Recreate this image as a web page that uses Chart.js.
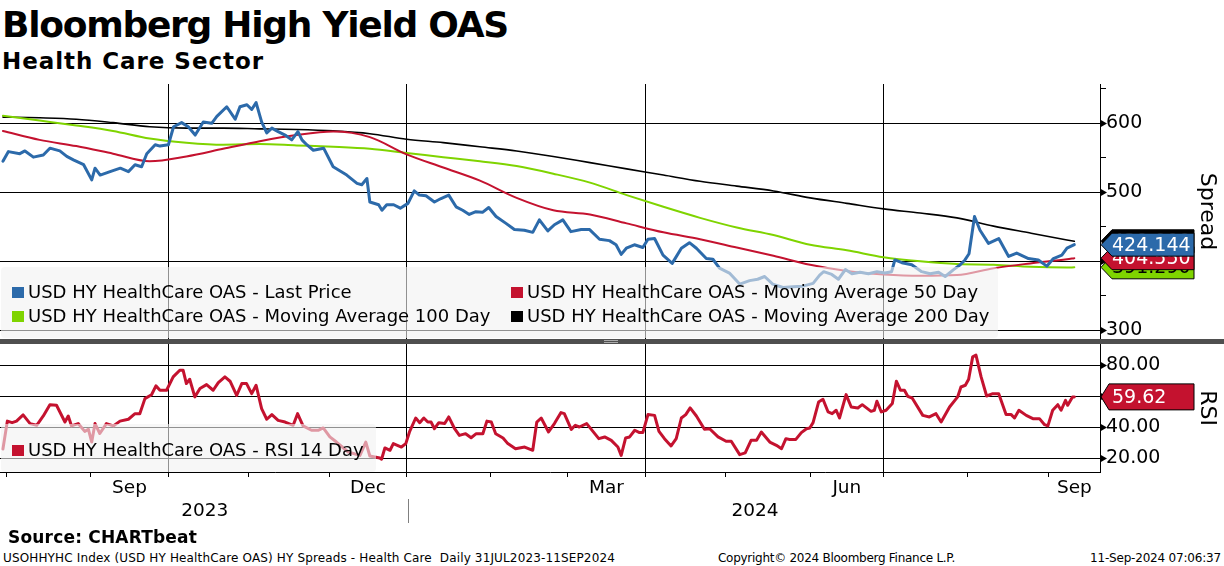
<!DOCTYPE html>
<html>
<head>
<meta charset="utf-8">
<script src="https://cdn.jsdelivr.net/npm/chart.js@4.4.1/dist/chart.umd.min.js"></script>
<style>
  body{margin:0;width:1224px;height:566px;overflow:hidden;position:relative;background:#fff;color:#000;font-family:"DejaVu Sans",sans-serif}
  .abs{position:absolute;white-space:nowrap}
  canvas{position:absolute;left:0}
  #title{left:2px;top:7px;font-size:36px;line-height:36px;font-weight:bold}
  #subtitle{left:2px;top:50px;font-size:23px;line-height:23px;font-weight:bold}
  .legend{position:absolute;background:rgba(242,242,242,0.6);border-radius:4px}
  .item{position:absolute;font-size:18px;line-height:18px;white-space:nowrap}
  .item i{position:absolute;left:-16px;top:4px;width:12px;height:11px}
  #sep{left:0;top:339px;width:1224px;height:5px;background:#4f4f4f}
  #grip{left:604px;top:340px;width:14px;height:1px;border-top:1px solid #aaa;border-bottom:1px solid #aaa}
  #yearSep{left:408px;top:499px;width:1px;height:24px;background:#808080}
  #source{left:8px;top:529px;font-size:17px;line-height:17px;font-weight:bold}
  .foot{top:552px;font-size:12px;line-height:12px}
</style>
</head>
<body>

<div id="title" class="abs">Bloomberg High Yield OAS</div>
<div id="subtitle" class="abs">Health Care Sector</div>

<canvas id="spreadChart" width="1224" height="255" style="top:84px"></canvas>
<canvas id="rsiChart" width="1224" height="190" style="top:344px"></canvas>

<div id="sep" class="abs"></div>
<div id="grip" class="abs"></div>
<div id="yearSep" class="abs"></div>

<div class="legend" style="left:1px;top:267px;width:997px;height:71px">
  <div class="item" style="left:27px;top:16px"><i style="background:#2c6aaa"></i>USD HY HealthCare OAS - Last Price</div>
  <div class="item" style="left:526px;top:16px"><i style="background:#c4122f"></i>USD HY HealthCare OAS - Moving Average 50 Day</div>
  <div class="item" style="left:27px;top:40px"><i style="background:#7fd400"></i>USD HY HealthCare OAS - Moving Average 100 Day</div>
  <div class="item" style="left:526px;top:40px"><i style="background:#000"></i>USD HY HealthCare OAS - Moving Average 200 Day</div>
</div>
<div class="legend" style="left:1px;top:424px;width:375px;height:48px">
  <div class="item" style="left:27px;top:17px"><i style="background:#c4122f"></i>USD HY HealthCare OAS - RSI 14 Day</div>
</div>

<div id="source" class="abs">Source: CHARTbeat</div>
<div id="foot1" class="abs foot" style="left:3px">USOHHYHC Index (USD HY HealthCare OAS) HY Spreads - Health Care&nbsp; Daily 31JUL2023-11SEP2024</div>
<div id="foot2" class="abs foot" style="left:718px">Copyright© 2024 Bloomberg Finance L.P.</div>
<div id="foot3" class="abs foot" style="right:3px">11-Sep-2024 07:06:37</div>

<script>
/* ==========================
   DATA (x = weekday index from 31 Jul 2023)
========================== */

const priceDays = [
  0,1.5,4.6,6,8.3,11,12.8,15.5,17.4,19.2,22,24.2,25.1,26.5,29.2,32,34.2,36,37.8,39.2,
  41.5,42.8,45.1,46.5,48.7,50.5,52.4,54.6,56.9,58.3,61,63.3,64.6,66.5,67.8,69,70.5,71.9,73.3,75,
  76.9,78.7,80.4,81.5,82.8,84.6,87.4,90,93.7,96.5,97.8,99.2,100,102.4,103.3,104.6,106.5,108.3,110.4,112.1,
  113.5,115.3,117.6,119.4,121.5,123.5,125.3,127.1,128.9,130.7,132.4,134.4,137.1,139.4,142.1,144.4,146.2,148.5,150.3,152.6,
  154.8,157.6,159.9,162.6,165.3,167.1,168.5,169.9,172.1,174.4,175.8,177.6,179.9,182.4,184.9,187.1,189,191.7,193.5,195.3,
  198,200.8,203.5,205.7,207.6,209.8,212.6,215.3,218,220.8,222.6,223.7,225.9,227.7,229.6,231.4,233.6,235.9,238.2,240.4,
  242.2,243.1,245,247.7,250.4,252.7,255,256.8,259.1,260.9,262.2,263.3,264.8,266.3,268.6,271.4,274.1,276.3,279.5,282.2,
  284.5,286.3,288.6,290,292
];
const priceValues = [
  545,559,556,560,551,554,564,560,552,547,540,518,535,525,530,535,530,540,537,556,
  569,567,569,595,601,595,583,602,600,610,624,606,624,627,620,630,602,586,593,588,
  583,576,588,576,569,561,564,537,525,513,511,520,486,482,474,482,482,477,484,502,
  496,495,486,491,496,479,474,468,472,471,478,465,455,446,445,442,460,444,453,460,
  443,446,446,432,430,424,410,419,424,420,432,433,409,397,419,427,419,404,403,390,
  383,367,372,374,378,367,362,363,364,368,380,385,381,374,388,382,384,382,385,383,
  385,402,398,395,385,382,384,378,388,395,402,411,465,445,426,433,407,412,404,402,
  393,404,409,419,424.144
];

const maDays = [0,10,20,30,40,50,60,70,80,90,100,110,120,130,140,150,160,170,180,190,200,210,220,230,240,250,260,270,280,290,292];
const ma50 = [589,576,567,556,545,552,563,574,583,588,580,555,536,517,492,474,468,455,442,432,420,408,395,386,381,379,380,390,397,403,404.55];
const ma100 = [611,604,597,589,578,572,569,570,568,566,563,557,551,545,538,527,514,496,479,463,449,438,424,416,406,400,396,395,392,391,391.29];
const ma200 = [609,608,606,601,595,593,593,592,591,589,585,577,572,566,560,552,543,534,525,516,509,502,492,484,476,470,463,451,441,431,429];

const rsiDays = [
  0,1.2,2.5,3.7,5.5,7.4,9.2,11,12.8,14.6,16.9,17.8,18.7,20.5,22.3,23.3,24.2,25.1,26.4,28.2,
  30.1,31.9,34.2,36,37.3,38.7,40.5,41.7,42.8,44.6,46.4,48.2,49.1,50,50.9,52.3,53.7,55.5,57.3,58.7,
  60.5,61.9,63.7,65.1,66.4,67.8,69,70.5,71.9,73.3,75,76.9,79.1,80.3,81.8,84.1,85.9,87.3,89.1,90.9,
  94.1,97.3,98.9,100,102.7,103.2,104.1,105.5,106.4,108.6,109.8,110.8,112.5,113.6,114.7,115.8,116.7,117.6,118.8,120.4,
  121.5,123.1,124.4,126.1,127.6,129,130.8,131.9,133.1,134.3,136.3,137.6,139.7,142.2,144.4,145.5,146.7,148.7,150.3,152.1,
  153,154.9,156,157.1,159.1,160.8,162.4,164,165.8,167.6,168.5,169.7,170.8,172.2,173.5,174.4,175.8,177.6,178.8,180.3,
  182.1,183.5,184.9,186.1,187.3,189,191.2,192.6,194.9,197.1,198.5,200.8,202.3,203.9,205.4,206.7,209,210.8,212.2,213.4,
  214.4,216.1,217.6,219,219.9,220.8,222.3,223.5,224.9,226,227.1,228,229.8,231.2,233,234.2,236.6,237.5,238.2,239.4,
  240.7,242.4,243.5,244.6,245.7,246.6,247.8,250.7,252.5,254.3,255.7,258,260.2,261.1,262.3,263.2,264.3,265.2,266.6,268.1,
  269.8,271.4,273.4,274.8,275.7,276.9,278.9,280.7,282.5,283.9,284.8,286.1,287.5,288.4,289.6,290.2,291.5,292
];
const rsiValues = [
  26,44,43,44,48,42.4,41.3,47.3,54.6,54.2,43.4,47.3,40.9,42.4,37.4,38.7,30.5,42.4,36,42.4,
  40.9,44,45.2,48.8,48.8,58.5,61,66.7,63.9,63.9,72.5,76.8,76.8,68.2,71,59.6,65,67.5,63.9,68.8,
  72.5,69.7,60.6,68.2,68.2,61.7,67.1,52,45.2,48.2,44.5,43.4,41.3,48.8,40.9,38.1,38.1,39.6,33.8,30.5,
  24.1,21.9,30.5,21.5,20.2,19.4,26.7,25.2,29.5,27.3,29.5,37,46,43,46,43.4,43.4,39.1,43,42.4,
  46.7,39.1,34.8,35.9,33.3,35.9,35.9,44,43.4,35.9,33.1,29.5,26.2,27.3,25.2,43.4,46,37,42.4,49.5,
  48.8,38.7,41.3,40.2,42.4,37.4,32.7,33.8,31.6,27.3,21.9,33.1,33.8,38.1,36.6,36.6,48.2,47.7,37.4,32.7,
  28,32.7,46,48.2,52.5,47.3,38.7,39.1,33.8,31,31,22.4,23.5,31.6,31.6,37,30.5,28.4,26.2,32.7,
  32.2,32.2,36.6,39.1,39.6,43,56.3,58.1,49.9,48.8,51,46,61.1,53.1,52.5,54.6,50.3,51,56.8,49.9,
  51,55.3,69.7,63.9,63.9,60,58.9,47.7,46.7,48.8,43.4,53.1,59.6,66,67.1,71,85.4,86.5,72.5,60.2,
  61.7,61.7,48.2,48.2,46,51,47.7,45.6,45.6,41.7,40.9,51,54.6,51,57.4,54.2,59.6,59.62
];

const monthDays = [1,24,45,67,89,110,133,154,175,197,220,240,263,285];
const quarterDays = [45,110,175,240];
const monthLabelDays = [34.5,99.5,164.5,230,292];
const monthLabels = ["Sep","Dec","Mar","Jun","Sep"];
const yearLabelDays = [55,205];
const yearLabels = ["2023","2024"];

const spreadTicks = [300,350,400,450,500,550,600,650];
const spreadMajor = [300,400,500,600];
const rsiTicks = [20,30,40,50,60,70,80,90];
const rsiMajor = [20,40,60,80];

/* ==========================
   STYLE
========================== */

const X_MIN = -0.8, X_MAX = 299;
const BLUE = "#2c6aaa", RED = "#c4122f", GREEN = "#7fd400", BLACK = "#000000";
const FONT = "DejaVu Sans";

const pts = (xs, ys) => xs.map((x, i) => ({x: x, y: ys[i]}));
const noPad = s => { s.paddingTop = 0; s.paddingBottom = 0; s.paddingLeft = 0; s.paddingRight = 0; };

// arrow heads on labelled ticks + value boxes on the right axis
const axisMarks = {
  id: "axisMarks",
  afterDraw(chart, args, opts) {
    const ctx = chart.ctx, sc = chart.scales.y, right = chart.chartArea.right;
    ctx.save();
    ctx.fillStyle = "#000";
    opts.major.forEach(v => {
      const py = Math.round(sc.getPixelForValue(v)) + 0.5;
      ctx.beginPath();
      ctx.moveTo(right, py - 4);
      ctx.lineTo(right + 7, py);
      ctx.lineTo(right, py + 4);
      ctx.closePath();
      ctx.fill();
    });
    opts.boxes.forEach(b => {
      const py = sc.getPixelForValue(b.value);
      const h = b.h / 2, x0 = right + 1, x1 = right + b.neck, x2 = right + 94;
      ctx.beginPath();
      ctx.moveTo(x0, py);
      ctx.lineTo(x1, py - h);
      ctx.lineTo(x2, py - h);
      ctx.lineTo(x2, py + h);
      ctx.lineTo(x1, py + h);
      ctx.closePath();
      ctx.fillStyle = b.fill;
      ctx.fill();
      ctx.lineWidth = 1;
      ctx.strokeStyle = "#000";
      ctx.stroke();
      ctx.fillStyle = b.color;
      ctx.font = "19px '" + FONT + "'";
      ctx.textBaseline = "middle";
      ctx.textAlign = "left";
      ctx.fillText(b.text, right + 12, py + 1);
    });
    ctx.restore();
  }
};

function yAxis(min, max, ticks, major, fmt, title) {
  return {
    position: "right",
    min: min,
    max: max,
    afterBuildTicks: s => { s.ticks = ticks.map(v => ({value: v})); },
    afterFit: s => { s.width = 124; noPad(s); },
    grid: {
      color: c => (c.tick && major.includes(c.tick.value)) ? "#000" : "rgba(0,0,0,0)",
      tickColor: "#000",
      tickLength: 6,
      lineWidth: 1
    },
    border: {display: true, color: "#000", width: 1},
    ticks: {
      padding: 0,
      color: "#000",
      font: {family: FONT, size: 19},
      callback: v => major.includes(v) ? fmt(v) : ""
    },
    title: {
      display: true,
      text: title,
      color: "#000",
      font: {family: FONT, size: 22},
      padding: {top: 4, bottom: 0}
    }
  };
}

function labelAxis(weight, days, labels, height) {
  return {
    type: "linear",
    position: "bottom",
    weight: weight,
    min: X_MIN,
    max: X_MAX,
    afterBuildTicks: s => { s.ticks = days.map(v => ({value: v})); },
    afterFit: s => { s.height = height; noPad(s); },
    grid: {display: false, drawTicks: false},
    border: {display: false},
    ticks: {
      padding: 0,
      autoSkip: false,
      maxRotation: 0,
      color: "#000",
      font: {family: FONT, size: 18.5},
      callback: (v, i) => labels[i]
    }
  };
}

const common = {
  responsive: false,
  animation: false,
  events: [],
  layout: {padding: 0},
  elements: {point: {radius: 0}, line: {borderJoinStyle: "round", borderCapStyle: "round"}}
};

/* ==========================
   SPREAD PANEL
========================== */

new Chart(document.getElementById("spreadChart"), {
  type: "line",
  data: {
    datasets: [
      {label: "Last Price", data: pts(priceDays, priceValues), borderColor: BLUE, borderWidth: 3, tension: 0},
      {label: "MA 50", data: pts(maDays, ma50), borderColor: RED, borderWidth: 2, cubicInterpolationMode: "monotone"},
      {label: "MA 100", data: pts(maDays, ma100), borderColor: GREEN, borderWidth: 2, cubicInterpolationMode: "monotone"},
      {label: "MA 200", data: pts(maDays, ma200), borderColor: BLACK, borderWidth: 1.6, cubicInterpolationMode: "monotone"}
    ]
  },
  options: Object.assign({}, common, {
    plugins: {
      legend: {display: false},
      tooltip: {enabled: false},
      axisMarks: {
        major: spreadMajor,
        boxes: [
          {value: ma200[ma200.length - 1], text: ma200[ma200.length - 1].toFixed(3), fill: BLACK, color: "#fff", neck: 12, h: 23},
          {value: ma100[ma100.length - 1], text: ma100[ma100.length - 1].toFixed(3), fill: GREEN, color: "#000", neck: 12, h: 23},
          {value: ma50[ma50.length - 1], text: ma50[ma50.length - 1].toFixed(3), fill: RED, color: "#fff", neck: 12, h: 23},
          {value: priceValues[priceValues.length - 1], text: priceValues[priceValues.length - 1].toFixed(3), fill: BLUE, color: "#fff", neck: 12, h: 23}
        ]
      }
    },
    scales: {
      x: {
        type: "linear",
        min: X_MIN,
        max: X_MAX,
        afterBuildTicks: s => { s.ticks = quarterDays.map(v => ({value: v})); },
        afterFit: s => { s.height = 0; noPad(s); },
        ticks: {display: false},
        grid: {color: "#000", lineWidth: 1, drawTicks: false},
        border: {display: false}
      },
      y: yAxis(287.4, 657, spreadTicks, spreadMajor, v => String(v), "Spread")
    }
  }),
  plugins: [axisMarks]
});

/* ==========================
   RSI PANEL
========================== */

new Chart(document.getElementById("rsiChart"), {
  type: "line",
  data: {
    datasets: [
      {label: "RSI 14 Day", data: pts(rsiDays, rsiValues), borderColor: RED, borderWidth: 3, tension: 0}
    ]
  },
  options: Object.assign({}, common, {
    plugins: {
      legend: {display: false},
      tooltip: {enabled: false},
      axisMarks: {
        major: rsiMajor,
        boxes: [
          {value: rsiValues[rsiValues.length - 1], text: rsiValues[rsiValues.length - 1].toFixed(2), fill: RED, color: "#fff", neck: 9, h: 26}
        ]
      }
    },
    scales: {
      x: {
        type: "linear",
        position: "bottom",
        weight: 0,
        min: X_MIN,
        max: X_MAX,
        afterBuildTicks: s => { s.ticks = monthDays.map(v => ({value: v})); },
        afterFit: s => { s.height = 5; noPad(s); },
        ticks: {callback: () => "", autoSkip: false, maxRotation: 0, font: {size: 1}},
        grid: {
          color: c => (c.tick && quarterDays.includes(c.tick.value)) ? "#000" : "rgba(0,0,0,0)",
          tickColor: "#000",
          tickLength: 5,
          lineWidth: 1
        },
        border: {display: true, color: "#000", width: 1}
      },
      x2: labelAxis(1, monthLabelDays, monthLabels, 23),
      x3: labelAxis(2, yearLabelDays, yearLabels, 34),
      y: yAxis(11.2, 93.7, rsiTicks, rsiMajor, v => v.toFixed(2), "RSI")
    }
  }),
  plugins: [axisMarks]
});

/* ==========================
   TEXT WIDTHS
========================== */

function fitWidth(id, target) {
  const el = document.getElementById(id);
  const n = el.textContent.length;
  const diff = target - el.getBoundingClientRect().width;
  el.style.letterSpacing = (diff / n) + "px";
}

fitWidth("title", 506);
fitWidth("subtitle", 262);
fitWidth("source", 189);
fitWidth("foot1", 612);
fitWidth("foot2", 237);
fitWidth("foot3", 131);
</script>
</body>
</html>
